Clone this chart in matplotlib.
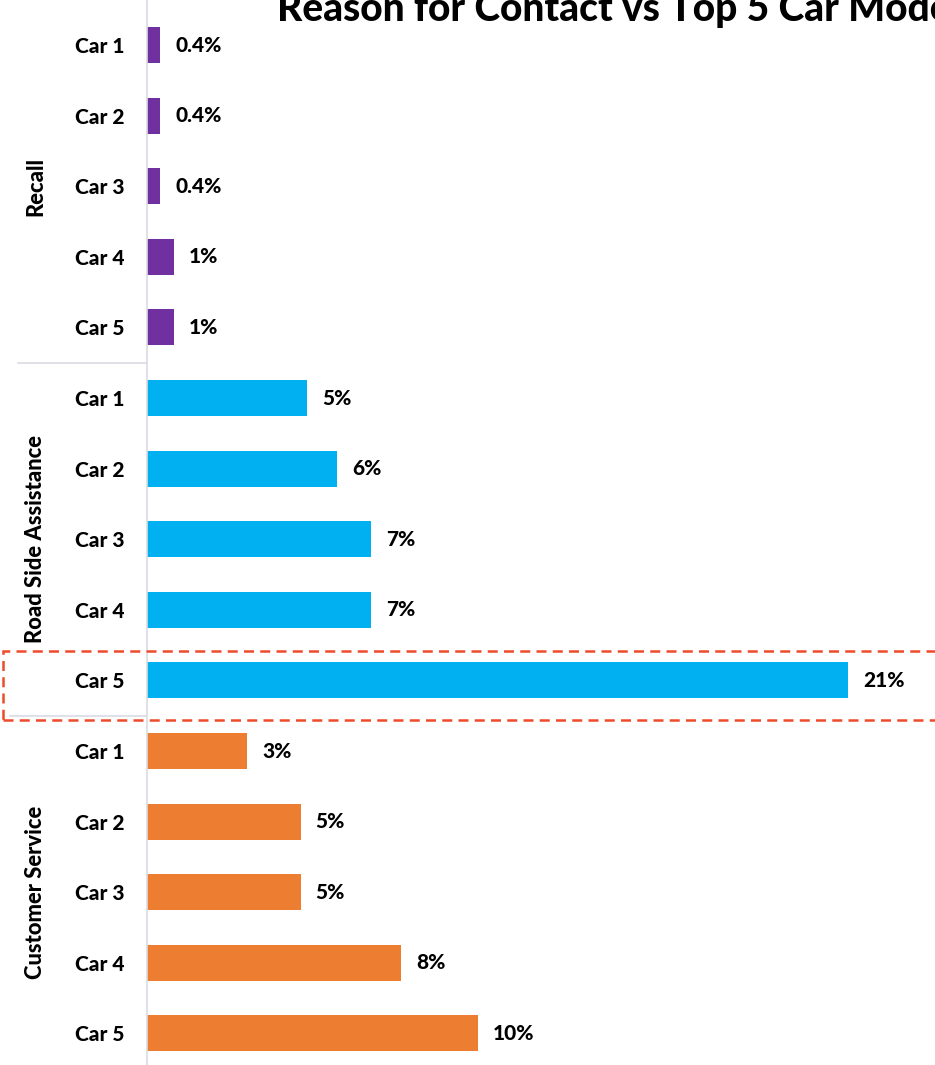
import matplotlib.pyplot as plt
from matplotlib.patches import Rectangle
from matplotlib.lines import Line2D

plt.rcParams['font.family'] = ['Lato', 'DejaVu Sans']

groups = ['Recall', 'Road Side Assistance', 'Customer Service']
cars = ['Car 1', 'Car 2', 'Car 3', 'Car 4', 'Car 5']
recall = [0.4, 0.4, 0.4, 0.8, 0.8]
road_side = [4.8, 5.7, 6.7, 6.7, 21.0]
customer = [3.0, 4.6, 4.6, 7.6, 9.9]
recall_lbl = ['0.4%', '0.4%', '0.4%', '1%', '1%']
road_side_lbl = ['5%', '6%', '7%', '7%', '21%']
customer_lbl = ['3%', '5%', '5%', '8%', '10%']
colors = ['#7030A0', '#00B0F0', '#ED7D31']

W, H = 935, 1065
fig = plt.figure(figsize=(W / 100, H / 100), dpi=100)
ax = fig.add_axes([147 / W, 0, 1 - 147 / W, 1])

values = recall + road_side + customer
labels = recall_lbl + road_side_lbl + customer_lbl
bar_colors = [c for c in colors for _ in cars]
ypos = list(range(len(values)))

ax.barh(ypos, values, height=0.51, color=bar_colors)
px = 23.6 / (W - 147)
for y, v, l in zip(ypos, values, labels):
    ax.text(v + 15 * px, y, l, va='center', ha='left', fontsize=15, fontweight='black')

ax.set_xlim(0, 23.6)
ax.set_ylim((H - 45) / 70.6, -45 / 70.6)
ax.set_yticks(ypos)
ax.set_yticklabels(cars * 3, fontsize=15, fontweight='black')
ax.tick_params(axis='y', length=0, pad=16.5)
ax.set_xticks([])
for s in ['top', 'right', 'bottom']:
    ax.spines[s].set_visible(False)
ax.spines['left'].set_color('#D9DCE1')
ax.spines['left'].set_linewidth(1.2)

# group labels and separators
for i, g in enumerate(groups):
    ax.text(-(147 - 36) / (W - 147), i * 5 + 2, g, transform=ax.get_yaxis_transform(),
            rotation=90, ha='center', va='center', fontsize=15.8, fontweight='black')
for y, x0 in [(4.5, 18), (9.5, 10)]:
    ax.add_line(Line2D([-(147 - x0) / (W - 147), 0], [y, y], transform=ax.get_yaxis_transform(),
                       color='#D9DCE1', lw=1.2, clip_on=False))

# highlight box
fig.add_artist(Rectangle((3 / W, (H - 720) / H), 1.0, 69 / H, transform=fig.transFigure,
                         fill=False, edgecolor='#EE4B2B', lw=1.8, ls=(0, (4, 2.5)), clip_on=False))

fig.text(277 / W, 1 - 21 / H, 'Reason for Contact vs Top 5 Car Models', fontsize=28,
         fontweight='black', ha='left', va='baseline')

fig.savefig('out.png', dpi=100)
